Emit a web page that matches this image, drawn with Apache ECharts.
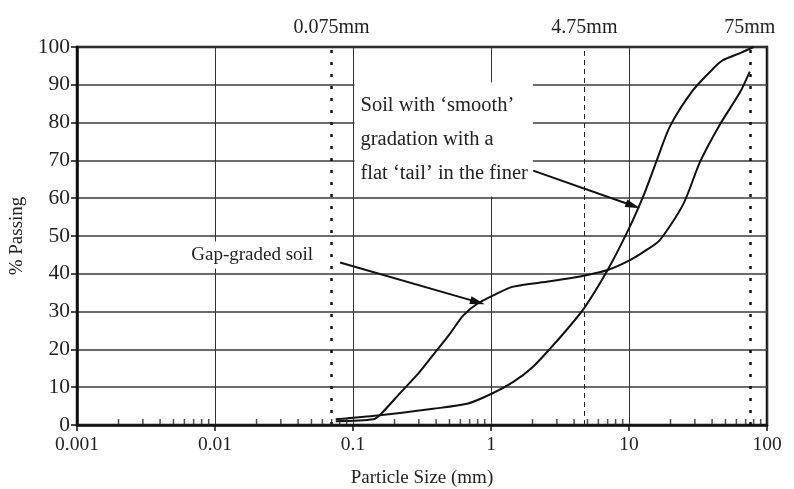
<!DOCTYPE html>
<html><head><meta charset="utf-8">
<script src="https://cdn.jsdelivr.net/npm/echarts@6/dist/echarts.min.js"></script>
<style>html,body{margin:0;padding:0;background:#fff}#c{width:794px;height:489px}</style>
</head><body><div id="c"></div>
<script>
// ---- data ----
const xTickLabels = ['0.001', '0.01', '0.1', '1', '10', '100'];
const yTicks = [0, 10, 20, 30, 40, 50, 60, 70, 80, 90, 100];
const sieveSizes = [0.075, 4.75, 75];
const sieveLabels = ['0.075mm', '4.75mm', '75mm'];

const smoothSize    = [0.075, 0.15, 0.38, 0.67, 1.0, 1.45, 2.0, 2.68, 3.5, 4.75, 7, 10, 13, 15.9, 19.8, 29, 40, 48, 65, 80];
const smoothPassing = [1.5, 2.5, 4.3, 5.6, 8.2, 11.4, 15.3, 20.2, 25, 31, 41, 52, 61.5, 70, 79, 88.5, 94, 96.5, 98.5, 100];

const gapSize    = [0.075, 0.14, 0.16, 0.22, 0.3, 0.38, 0.5, 0.63, 0.79, 1.04, 1.45, 2.68, 5, 7, 10, 13, 16.8, 24.8, 32.7, 45.6, 63.7, 75];
const gapPassing = [1, 1.5, 3, 8.5, 13.8, 18.5, 24, 29, 32, 34.3, 36.6, 38, 39.7, 41, 43.5, 46, 49, 58.5, 69.6, 79.5, 88, 93.5];

const minorDecades = [0.001, 0.01, 0.1, 1, 10];
const minorMultipliers = [2, 3, 4, 5, 6, 7, 8, 9];

const gapLabel = 'Gap-graded soil';
const smoothLabel = 'Soil with \u2018smooth\u2019\ngradation with a\nflat \u2018tail\u2019 in the finer';

// ---- chart ----
const serif = 'Liberation Serif';
const minorTicks = [];
minorDecades.forEach(d => minorMultipliers.forEach(m => minorTicks.push([+(d * m).toPrecision(3), 0])));

const chart = echarts.init(document.getElementById('c'), null, {renderer: 'canvas'});
chart.setOption({
  animation: false,
  backgroundColor: '#fff',
  grid: {left: 77, right: 27, top: 47, bottom: 64, show: true, borderColor: '#111', borderWidth: 2.5,
         backgroundColor: 'transparent', containLabel: false, outerBoundsMode: 'none'},
  xAxis: {
    type: 'log', logBase: 10, min: 0.001, max: 100,
    name: 'Particle Size (mm)', nameLocation: 'middle', nameGap: 44,
    nameTextStyle: {fontFamily: serif, fontSize: 19, color: '#222'},
    axisLine: {show: true, lineStyle: {color: '#111', width: 2.5}},
    axisTick: {show: true, length: 6, lineStyle: {color: '#111', width: 1.5}},
    axisLabel: {fontFamily: serif, fontSize: 19.5, color: '#222', margin: 10,
      formatter: (v) => { const i = Math.round(Math.log10(v)) + 3; return xTickLabels[i] ?? ''; }},
    splitLine: {show: true, lineStyle: {color: '#333', width: 1}},
    minorTick: {show: false}
  },
  yAxis: {
    type: 'value', min: 0, max: 100, interval: 10,
    name: '% Passing', nameLocation: 'middle', nameGap: 44,
    nameTextStyle: {fontFamily: serif, fontSize: 19, color: '#222'},
    axisLine: {show: true, lineStyle: {color: '#111', width: 2.5}},
    axisTick: {show: true, length: 6, lineStyle: {color: '#111', width: 1.5}},
    axisLabel: {fontFamily: serif, fontSize: 21.5, color: '#222', margin: 7,
      formatter: (v) => yTicks.includes(v) ? String(v) : ''},
    splitLine: {show: true, lineStyle: {color: '#3a3a3a', width: 1.5}}
  },
  series: [
    {
      type: 'scatter', name: 'minor', silent: true, z: 5,
      data: minorTicks, symbol: 'rect', symbolSize: [1.5, 6], symbolOffset: [0, -3],
      itemStyle: {color: '#222'}
    },
    {
      type: 'line', name: 'smooth', silent: true, z: 3,
      data: smoothSize.map((x, i) => [x, smoothPassing[i]]),
      symbol: 'none', smooth: 0.25, lineStyle: {color: '#111', width: 2},
      markLine: {
        silent: true, symbol: 'none', animation: false,
        data: sieveSizes.map((s, i) => ({
          xAxis: s,
          lineStyle: i === 1 ? {color: '#222', width: 1, type: [5, 4]} : {color: '#111', width: 2.5, type: [3, 9]},
          label: {show: true, position: 'end', distance: 9, formatter: sieveLabels[i],
                  fontFamily: serif, fontSize: 20, color: '#222'}
        }))
      }
    },
    {
      type: 'line', name: 'gap', silent: true, z: 3,
      data: gapSize.map((x, i) => [x, gapPassing[i]]),
      symbol: 'none', smooth: 0.25, lineStyle: {color: '#111', width: 2},
      markLine: {
        silent: true, animation: false, symbol: ['none', 'triangle'], symbolSize: [8, 15],
        lineStyle: {color: '#111', width: 2, type: 'solid'},
        label: {show: false},
        data: [
          [{coord: [0.0805, 43]}, {coord: [0.8, 32.5]}],
          [{coord: [2.02, 67.3]}, {coord: [10.7, 58]}]
        ]
      },
      markPoint: {
        silent: true, animation: false,
        data: [
          {coord: [0.0186, 45], symbol: 'rect', symbolSize: 0,
           label: {show: true, position: 'inside', formatter: gapLabel, fontFamily: serif, fontSize: 19,
                   color: '#222', backgroundColor: '#fff', padding: [4, 3, 4, 3]}},
          {coord: [0.1, 75.5], symbol: 'rect', symbolSize: 0,
           label: {show: true, position: 'right', distance: 1.5, formatter: smoothLabel, align: 'left',
                   fontFamily: serif, fontSize: 20.5, lineHeight: 34, color: '#222',
                   backgroundColor: '#fff', padding: [7, 5, 5, 6]}}
        ]
      }
    }
  ]
});
</script></body></html>
